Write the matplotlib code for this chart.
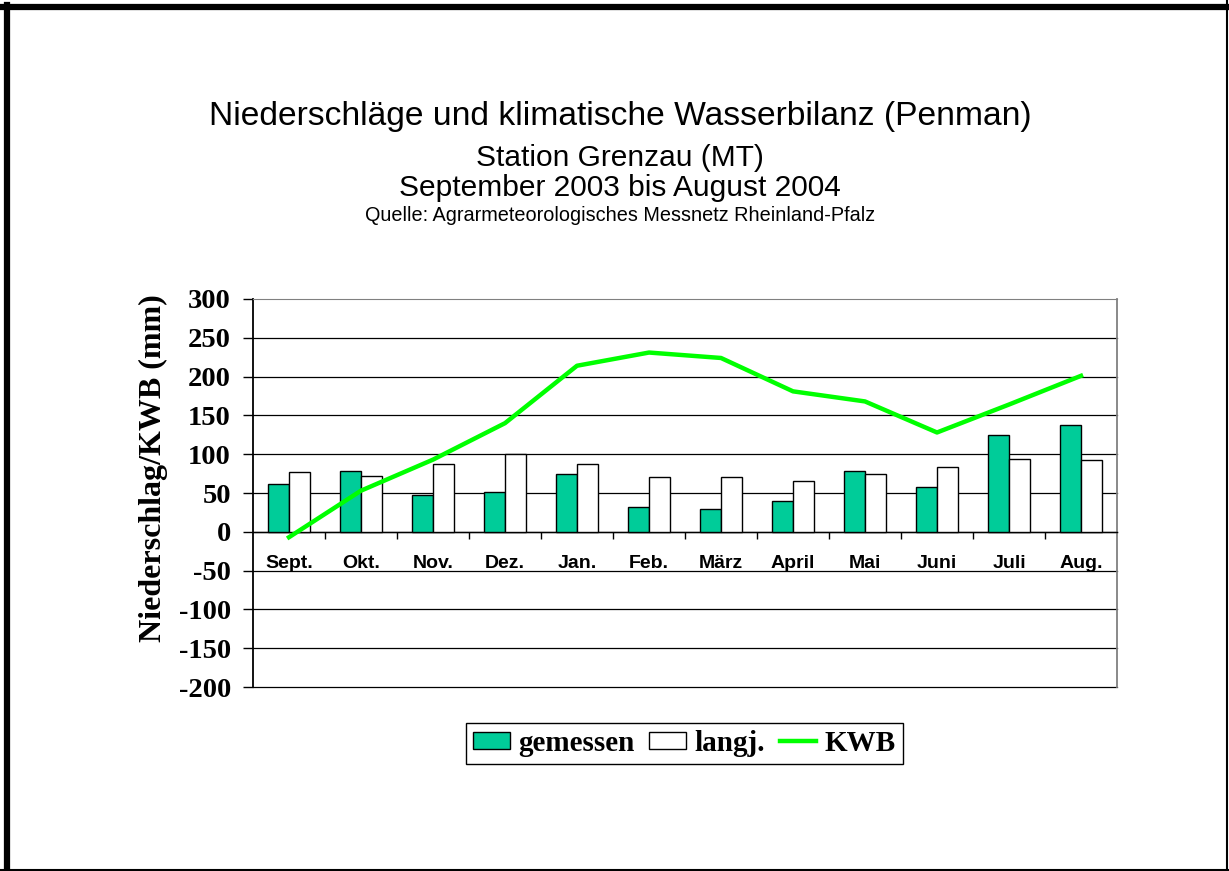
import numpy as np
import matplotlib
matplotlib.use('Agg')
import matplotlib.pyplot as plt
from matplotlib.lines import Line2D

# Daten
monate = ['Sept.', 'Okt.', 'Nov.', 'Dez.', 'Jan.', 'Feb.', 'März', 'April', 'Mai', 'Juni', 'Juli', 'Aug.']
gemessen = [61, 78, 47, 51, 75, 32, 29, 40, 78, 58, 125, 137]
langj = [77, 72, 88, 100, 88, 71, 71, 66, 74, 83, 94, 92]
kwb = [-7, 53, 93, 140, 214, 231, 224, 181, 168, 128, 164, 201]
y_ticks = [300, 250, 200, 150, 100, 50, 0, -50, -100, -150, -200]

SANS = 'Liberation Sans'
SERIF = 'Liberation Serif'
W, H = 1229, 871

fig = plt.figure(figsize=(W / 100, H / 100), dpi=100)
ax = fig.add_axes([253 / W, 1 - 687 / H, 864 / W, 388 / H])

x = np.arange(len(monate))
bw = 0.29
b1 = ax.bar(x - bw / 2, gemessen, bw, color='#00CC99', edgecolor='black', linewidth=1.0,
            label='gemessen', zorder=3)
b2 = ax.bar(x + bw / 2, langj, bw, color='white', edgecolor='black', linewidth=1.0,
            label='langj.', zorder=3)
l1, = ax.plot(x, kwb, color='#00FF00', linewidth=3.2, label='KWB', zorder=4)

ax.set_xlim(-0.5, len(monate) - 0.5)
ax.set_ylim(-200, 300)

# Gitterlinien
for yv in y_ticks[1:]:
    ax.axhline(yv, color='black', linewidth=0.9, zorder=1, clip_on=False)

# Achsen
ax.spines['bottom'].set_position(('data', 0))
ax.spines['bottom'].set_linewidth(1.0)
ax.spines['left'].set_linewidth(1.3)
ax.spines['top'].set_color('#808080')
ax.spines['right'].set_color('#808080')
ax.spines['right'].set_linewidth(1.3)

ax.set_yticks(y_ticks)
ax.set_yticklabels([str(v) for v in y_ticks], fontfamily=SERIF, fontweight='bold', fontsize=20.5)
ax.tick_params(axis='y', direction='out', length=7, width=1, pad=9)

ax.set_xticks(np.arange(-0.5, len(monate), 1.0)[1:-1])
ax.set_xticklabels([])
ax.set_xticks(x, minor=True)
ax.set_xticklabels(monate, minor=True, fontfamily=SANS, fontweight='bold', fontsize=14)
ax.tick_params(axis='x', which='major', direction='out', length=5, width=1)
ax.tick_params(axis='x', which='minor', length=0, pad=17)

fig.text(153 / W, 1 - 468 / H, 'Niederschlag/KWB (mm)', rotation=90, ha='center', va='center',
         fontfamily=SERIF, fontweight='bold', fontsize=23)

# Titel
cx = 620 / W
fig.text(cx, 1 - 125 / H, 'Niederschläge und klimatische Wasserbilanz (Penman)',
         ha='center', va='baseline', fontfamily=SANS, fontsize=24.2)
fig.text(cx, 1 - 166 / H, 'Station Grenzau (MT)', ha='center', va='baseline',
         fontfamily=SANS, fontsize=21.5)
fig.text(cx, 1 - 196 / H, 'September 2003 bis August 2004', ha='center', va='baseline',
         fontfamily=SANS, fontsize=21.5)
fig.text(cx, 1 - 221 / H, 'Quelle: Agrarmeteorologisches Messnetz Rheinland-Pfalz',
         ha='center', va='baseline', fontfamily=SANS, fontsize=14.3)

# Legende
leg = fig.legend([b1, b2, l1], ['gemessen', 'langj.', 'KWB'], loc='center',
                 bbox_to_anchor=(684.5 / W, 1 - 743.5 / H), ncol=3,
                 prop={'family': SERIF, 'weight': 'bold', 'size': 21},
                 frameon=True, fancybox=False, edgecolor='black', framealpha=1,
                 handlelength=1.25, handleheight=0.55, handletextpad=0.3,
                 columnspacing=0.5, borderpad=0.25, borderaxespad=0)
leg.get_frame().set_linewidth(1.0)

# Rahmen um die Grafik
fig.add_artist(Line2D([0, 1], [1 - 7.5 / H, 1 - 7.5 / H], transform=fig.transFigure,
                      color='black', linewidth=4.5))
fig.add_artist(Line2D([7 / W, 7 / W], [0, 1 - 5 / H], transform=fig.transFigure,
                      color='black', linewidth=4.5))
fig.add_artist(Line2D([1227 / W, 1227 / W], [0, 1], transform=fig.transFigure,
                      color='black', linewidth=1.5))
fig.add_artist(Line2D([0, 1], [1 - 870 / H, 1 - 870 / H], transform=fig.transFigure,
                      color='black', linewidth=1.5))

plt.savefig('out.png', dpi=100)
